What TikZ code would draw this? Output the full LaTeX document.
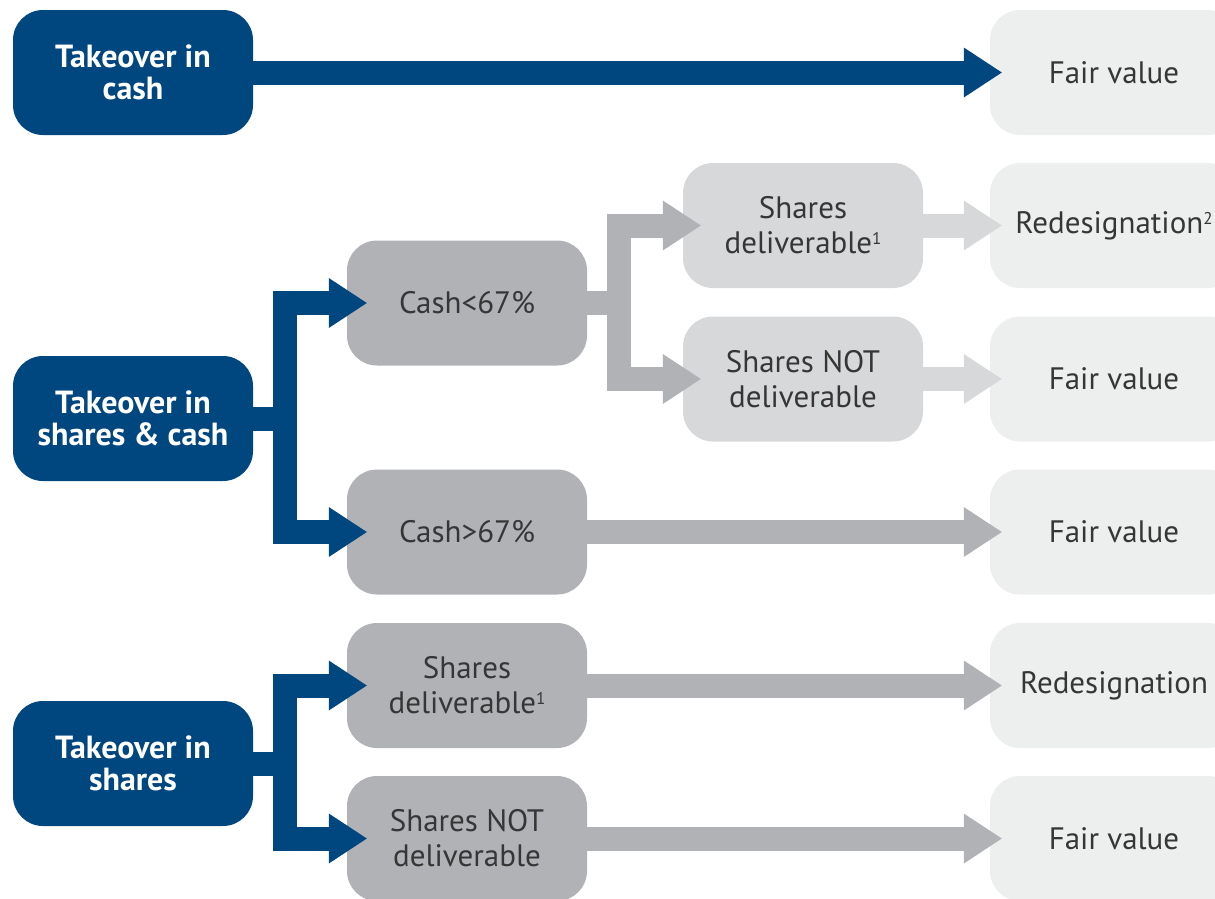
\documentclass[tikz,border=0pt]{standalone}
\usepackage{fontspec}
\setmainfont{PT Sans}
\usetikzlibrary{arrows.meta}
\definecolor{navy}{HTML}{00467F}
\definecolor{midgrey}{HTML}{B1B2B5}
\definecolor{palegrey}{HTML}{D7D8DA}
\definecolor{ghostgrey}{HTML}{EDEEEE}
\definecolor{ink}{HTML}{363636}
\newcommand{\fnmark}[1]{\raisebox{9pt}{\fontsize{17}{17}\selectfont #1}}
\begin{document}
\begin{tikzpicture}[x=1pt,y=-1pt,
  box/.style={rounded corners=30pt,minimum width=240pt,minimum height=125pt,inner sep=0pt,align=center,text=ink,font=\fontsize{31}{35}\selectfont},
  takeover/.style={box,fill=navy,text=white,font=\fontsize{32}{32}\selectfont\bfseries},
  choice/.style={box,fill=midgrey}, sub/.style={box,fill=palegrey},
  outcome/.style={box,fill=ghostgrey,minimum width=248pt},
  fat/.style={line width=24pt,-{Triangle[length=38pt,width=50pt,line width=0pt]}}]

  \useasboundingbox (0,0) rectangle (1215,898);

  \node[takeover] (tk1) at (133,72.5) {Takeover in\\cash};
  \node[takeover] (tk2) at (133,418.5) {Takeover in\\shares \& cash};
  \node[takeover] (tk3) at (133,763.5) {Takeover in\\shares};

  \node[choice] (lt) at (467,303) {Cash<67\%};  \node[choice] (gt) at (467,532) {Cash>67\%};
  \node[choice] (sdB) at (467,685.5) {Shares\\deliverable\fnmark{1}};
  \node[choice] (snB) at (467,838.5) {Shares NOT\\deliverable};

  \node[sub] (sdA) at (803,225.5) {Shares\\deliverable\fnmark{1}};
  \node[sub] (snA) at (803,379) {Shares NOT\\deliverable};

  \node[outcome] (fv1) at (1114,72.5) {Fair value};
  \node[outcome] (rdA) at (1114,225.5) {Redesignation\fnmark{2}};
  \node[outcome] (fvB) at (1114,379) {Fair value};
  \node[outcome] (fvC) at (1114,532) {Fair value};
  \node[outcome] (rdB) at (1114,685.5) {Redesignation};
  \node[outcome] (fvD) at (1114,838.5) {Fair value};

  \draw[fat,navy,shorten >=-12pt] (tk1.east) -- (fv1.west);
  \draw[fat,navy,shorten >=-20pt] (tk2.east) -- ++(31.5,0) |- (lt.west);
  \draw[fat,navy,shorten >=-20pt] (tk2.east) -- ++(31.5,0) |- (gt.west);
  \draw[fat,navy,shorten >=-20pt] (tk3.east) -- ++(31.5,0) |- (sdB.west);
  \draw[fat,navy,shorten >=-20pt] (tk3.east) -- ++(31.5,0) |- (snB.west);

  \draw[fat,midgrey,shorten >=-18pt] (lt.east) -- ++(31.5,0) |- (sdA.west);
  \draw[fat,midgrey,shorten >=-18pt] (lt.east) -- ++(31.5,0) |- (snA.west);
  \draw[fat,palegrey,shorten >=-12pt] (sdA.east) -- (rdA.west);
  \draw[fat,palegrey,shorten >=-12pt] (snA.east) -- (fvB.west);
  \draw[fat,midgrey,shorten >=-12pt] (gt.east) -- (fvC.west);
  \draw[fat,midgrey,shorten >=-12pt] (sdB.east) -- (rdB.west);
  \draw[fat,midgrey,shorten >=-12pt] (snB.east) -- (fvD.west);

\end{tikzpicture}
\end{document}
